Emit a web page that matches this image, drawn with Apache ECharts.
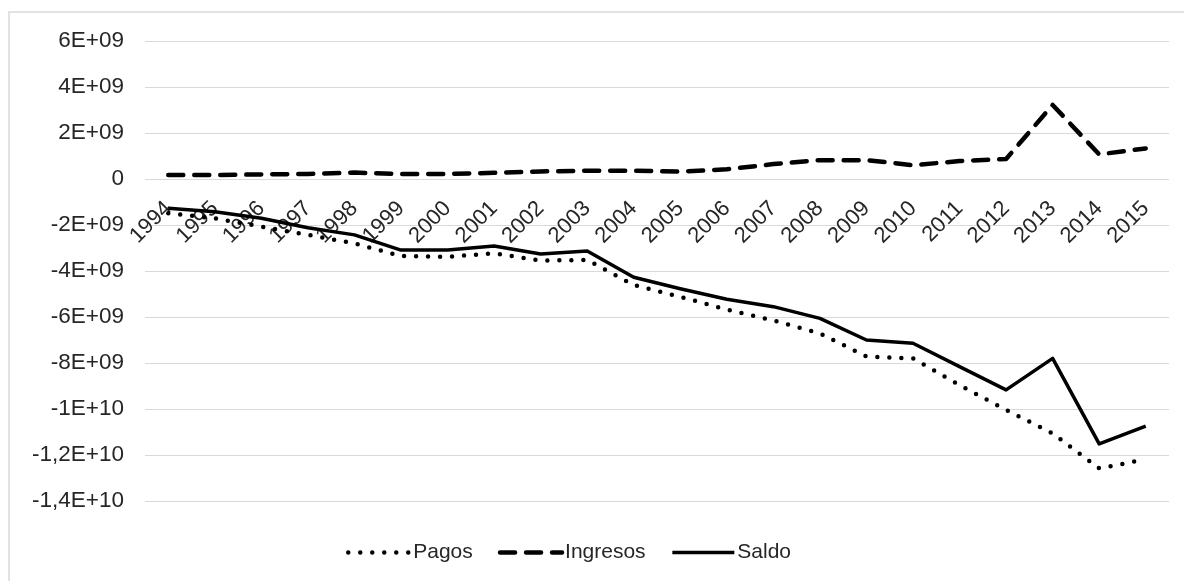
<!DOCTYPE html>
<html>
<head>
<meta charset="utf-8">
<script src="https://cdn.jsdelivr.net/npm/echarts@6/dist/echarts.min.js"></script>
<style>
  html, body { margin: 0; padding: 0; background: #fff; }
  #chart { width: 1184px; height: 581px; }
</style>
</head>
<body>
<div id="chart"></div>
<script>
// Años de la serie
const years = ['1994','1995','1996','1997','1998','1999','2000','2001','2002','2003','2004',
               '2005','2006','2007','2008','2009','2010','2011','2012','2013','2014','2015'];

// Valores (unidades monetarias)
const pagos = [-1.49e9,-1.71e9,-2.07e9,-2.43e9,-2.80e9,-3.35e9,-3.38e9,-3.23e9,-3.55e9,-3.52e9,-4.61e9,
               -5.12e9,-5.68e9,-6.15e9,-6.71e9,-7.72e9,-7.80e9,-8.96e9,-10.04e9,-11.06e9,-12.58e9,-12.19e9];
const ingresos = [0.17e9,0.17e9,0.20e9,0.22e9,0.28e9,0.22e9,0.22e9,0.27e9,0.33e9,0.36e9,0.36e9,
                  0.32e9,0.42e9,0.65e9,0.82e9,0.82e9,0.60e9,0.78e9,0.87e9,3.22e9,1.07e9,1.33e9];
const saldo = [-1.27e9,-1.42e9,-1.71e9,-2.12e9,-2.43e9,-3.09e9,-3.09e9,-2.91e9,-3.26e9,-3.13e9,-4.27e9,
               -4.77e9,-5.23e9,-5.55e9,-6.06e9,-7.00e9,-7.14e9,-8.16e9,-9.17e9,-7.80e9,-11.52e9,-10.74e9];

// Etiquetas del eje vertical
const yTickValues = [6e9, 4e9, 2e9, 0, -2e9, -4e9, -6e9, -8e9, -1e10, -1.2e10, -1.4e10];
const yTickLabels = ['6E+09','4E+09','2E+09','0','-2E+09','-4E+09','-6E+09','-8E+09','-1E+10','-1,2E+10','-1,4E+10'];

const FONT = '"Liberation Sans", Arial, sans-serif';
const TEXT = '#262626';
const Y_MIN = -1.4e10, Y_MAX = 6e9;
const GRID_TOP = 41, GRID_BOTTOM = 80, HEIGHT = 581;

// El eje de categorías se dibuja sobre la línea del cero
const plotH = HEIGHT - GRID_TOP - GRID_BOTTOM;
const zeroOffset = -plotH * (0 - Y_MIN) / (Y_MAX - Y_MIN);

// Estilos de trazo de cada serie
const dotted = { color: '#000', width: 4.5, type: [0, 12], cap: 'round', join: 'round' };
const dashed = { color: '#000', width: 4.5, type: [15, 11], cap: 'round', join: 'round' };
const solid  = { color: '#000', width: 3.5, type: 'solid', join: 'round' };

const chart = echarts.init(document.getElementById('chart'), null, { renderer: 'canvas' });

chart.setOption({
  animation: false,
  backgroundColor: '#fff',
  graphic: [{
    type: 'rect',
    shape: { x: 9, y: 12, width: 1200, height: 600 },
    style: { fill: 'none', stroke: '#d9d9d9', lineWidth: 1.5 },
    silent: true,
    z: -10
  }],
  grid: { left: 145, right: 15, top: GRID_TOP, bottom: GRID_BOTTOM, containLabel: false },
  legend: {
    bottom: 13,
    left: 341,
    itemWidth: 62,
    itemHeight: 14,
    itemGap: 25,
    itemStyle: { color: 'rgba(0,0,0,0)', borderWidth: 0, opacity: 0 },
    textStyle: { fontFamily: FONT, fontSize: 21, color: TEXT, padding: [0, 0, 0, -2] },
    data: [
      { name: 'Pagos', lineStyle: dotted },
      { name: 'Ingresos', lineStyle: dashed },
      { name: 'Saldo', lineStyle: solid }
    ]
  },
  xAxis: {
    type: 'category',
    data: years,
    boundaryGap: true,
    offset: zeroOffset,
    axisLine: { show: false, onZero: false },
    axisTick: { show: false },
    axisLabel: {
      rotate: 45,
      margin: 26,
      interval: 0,
      fontFamily: FONT,
      fontSize: 22,
      color: TEXT
    }
  },
  yAxis: {
    type: 'value',
    min: Y_MIN,
    max: Y_MAX,
    interval: 2e9,
    axisLine: { show: false },
    axisTick: { show: false },
    splitLine: { lineStyle: { color: '#d9d9d9', width: 1 } },
    axisLabel: {
      margin: 21,
      fontFamily: FONT,
      fontSize: 22.5,
      color: TEXT,
      formatter: function (v) {
        const i = yTickValues.findIndex(t => Math.abs(t - v) < 1);
        return i >= 0 ? yTickLabels[i] : '';
      }
    }
  },
  series: [
    { name: 'Pagos', type: 'line', data: pagos, symbol: 'none', z: 2,
      itemStyle: { color: '#000' }, lineStyle: dotted },
    { name: 'Ingresos', type: 'line', data: ingresos, symbol: 'none', z: 3,
      itemStyle: { color: '#000' }, lineStyle: dashed },
    { name: 'Saldo', type: 'line', data: saldo, symbol: 'none', z: 4,
      itemStyle: { color: '#000' }, lineStyle: solid }
  ]
});
</script>
</body>
</html>
